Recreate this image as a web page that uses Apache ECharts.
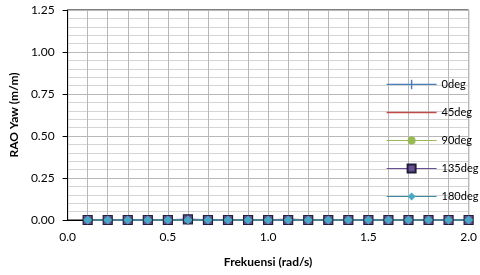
<!DOCTYPE html>
<html>
<head>
<meta charset="utf-8">
<script src="https://cdn.jsdelivr.net/npm/echarts@6/dist/echarts.min.js"></script>
<style>
  html, body { margin: 0; padding: 0; background: #fff; }
  #chart { width: 480px; height: 275px; }
</style>
</head>
<body>
<div id="chart"></div>
<script>
// frekuensi (rad/s)
var freq = [0.1, 0.2, 0.3, 0.4, 0.5, 0.6, 0.7, 0.8, 0.9, 1.0,
            1.1, 1.2, 1.3, 1.4, 1.5, 1.6, 1.7, 1.8, 1.9, 2.0];
// RAO yaw per heading
var rao0   = [0, 0, 0, 0, 0, 0, 0, 0, 0, 0, 0, 0, 0, 0, 0, 0, 0, 0, 0, 0];
var rao45  = [0, 0, 0, 0, 0, 0, 0, 0, 0, 0, 0.004, 0, 0, 0, 0, 0, 0, 0, 0, 0];
var rao90  = [0, 0, 0, 0, 0, 0, 0, 0, 0, 0, 0, 0, 0, 0, 0, 0, 0, 0, 0, 0];
var rao135 = [0, 0, 0, 0, 0, 0.004, 0, 0, 0, 0, 0, 0, 0, 0, 0, 0, 0, 0, 0, 0];
var rao180 = [0, 0, 0, 0, 0, 0, 0, 0, 0, 0, 0, 0, 0, 0, 0, 0, 0, 0, 0, 0];
var headings = ['0deg', '45deg', '90deg', '135deg', '180deg'];

function pairs(arr) {
    return freq.map(function (f, i) { return [f, arr[i]]; });
}

var font = 'Lato';
var tickBar = 'path://M0,0 L1,0 L1,10 L0,10 Z';
// legend icons: line with a small vertical tick / plain line
var iconTick = 'path://M0,5 L50,5 L50,6.3 L0,6.3 Z M24.3,1 L25.7,1 L25.7,10.5 L24.3,10.5 Z';
var iconLine = 'path://M0,5 L50,5 L50,6.3 L0,6.3 Z';

var option = {
    backgroundColor: '#ffffff',
    animation: false,
    grid: {
        left: 66,
        right: 8,
        top: 10,
        bottom: 55,
        show: true,
        borderColor: '#000',
        borderWidth: 1
    },
    legend: {
        orient: 'vertical',
        left: 381,
        top: 74,
        itemWidth: 50,
        itemHeight: 10,
        itemGap: 17,
        data: [
            { name: headings[0], icon: iconTick },
            { name: headings[1], icon: iconLine },
            { name: headings[2] },
            { name: headings[3] },
            { name: headings[4] }
        ],
        lineStyle: { width: 1.2 },
        textStyle: { fontFamily: font, fontSize: 11, color: '#000' }
    },
    xAxis: {
        type: 'value',
        min: 0,
        max: 2,
        interval: 0.5,
        name: 'Frekuensi (rad/s)',
        nameLocation: 'middle',
        nameGap: 36,
        nameTextStyle: { fontFamily: font, fontSize: 12, fontWeight: 'bold', color: '#000' },
        axisLine: { onZero: false, lineStyle: { color: '#000' } },
        axisTick: { show: false },
        axisLabel: {
            fontFamily: font, fontSize: 12, color: '#000', margin: 11,
            formatter: function (v) { return v.toFixed(1); }
        },
        splitLine: { show: true, lineStyle: { color: '#b8b8b8' } },
        minorTick: { show: false, splitNumber: 5 },
        minorSplitLine: { show: true, lineStyle: { color: '#b8b8b8' } }
    },
    yAxis: {
        type: 'value',
        min: 0,
        max: 1.25,
        interval: 0.25,
        name: 'RAO Yaw (m/m)',
        nameLocation: 'middle',
        nameGap: 47,
        nameTextStyle: { fontFamily: font, fontSize: 12, fontWeight: 'bold', color: '#000' },
        axisLine: { show: true, lineStyle: { color: '#000' } },
        axisTick: { show: true, inside: false, length: 5, lineStyle: { color: '#000' } },
        axisLabel: {
            fontFamily: font, fontSize: 12, color: '#000', margin: 13,
            formatter: function (v) { return v.toFixed(2); }
        },
        splitLine: { show: true, lineStyle: { color: '#b8b8b8' } },
        minorTick: { show: false, splitNumber: 5 },
        minorSplitLine: { show: true, lineStyle: { color: '#d4d4d4' } }
    },
    series: [{
        name: '0deg',
        type: 'line',
        data: pairs(rao0),
        color: '#4a7ebb',
        lineStyle: { width: 1.5 },
        symbol: tickBar,
        symbolSize: [1.5, 9],
        symbolKeepAspect: false,
        itemStyle: { color: '#4a7ebb' }
    }, {
        name: '45deg',
        type: 'line',
        data: pairs(rao45),
        color: '#be4b48',
        lineStyle: { width: 1.5 },
        symbol: 'none',
        showSymbol: false
    }, {
        name: '90deg',
        type: 'line',
        data: pairs(rao90),
        color: '#98b954',
        lineStyle: { width: 1.5 },
        symbol: 'circle',
        symbolSize: 8,
        itemStyle: { color: '#98b954' }
    }, {
        name: '135deg',
        type: 'line',
        data: pairs(rao135),
        color: '#7d60a0',
        lineStyle: { width: 1.5 },
        symbol: 'rect',
        symbolSize: 9,
        itemStyle: { color: '#6a4f92', borderColor: '#1f1f3a', borderWidth: 1.2 }
    }, {
        name: '180deg',
        type: 'line',
        data: pairs(rao180),
        color: '#46aac5',
        lineStyle: { width: 1.5, color: '#3a8aa0' },
        symbol: 'diamond',
        symbolSize: 9,
        itemStyle: { color: '#46aac5' }
    }]
};

var chart = echarts.init(document.getElementById('chart'));
chart.setOption(option);
</script>
</body>
</html>
